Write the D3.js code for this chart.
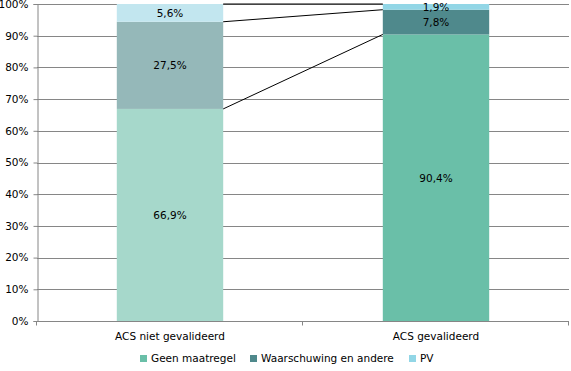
<!DOCTYPE html>
<html>
<head>
<meta charset="utf-8">
<script src="https://cdn.jsdelivr.net/npm/d3@7"></script>
<style>
  body { margin: 0; background: #fff; }
  svg { display: block; }
  text { font-family: "DejaVu Sans", Verdana, sans-serif; font-size: 10.5px; fill: #000; }
</style>
</head>
<body>
<div id="chart"></div>
<script>
var w = 571;
var h = 371;

// data
var categories = ["ACS niet gevalideerd", "ACS gevalideerd"];
var seriesNames = ["Geen maatregel", "Waarschuwing en andere", "PV"];
var geenMaatregel = [66.9, 90.4];
var waarschuwing = [27.5, 7.8];
var pv = [5.6, 1.9];
var yTicks = [0, 10, 20, 30, 40, 50, 60, 70, 80, 90, 100];

var colors = ["#6abfa8", "#4f898c", "#92d6e6"];
var fadedColors = ["#a6d8cb", "#95b8b9", "#c2e6ef"];

var margin = { top: 4, right: 2, bottom: 50, left: 37 };

var svg = d3.select("#chart")
    .append("svg")
    .attr("width", w)
    .attr("height", h);

var xScale = d3.scaleBand()
    .domain(categories)
    .range([margin.left, w - margin.right])
    .paddingInner(0)
    .paddingOuter(0);

var barWidth = xScale.bandwidth() * 0.4;

var yScale = d3.scaleLinear()
    .domain([0, 100])
    .range([h - margin.bottom, margin.top]);

// gridlines
svg.append("g")
    .selectAll("line")
    .data(yTicks.slice(1))
    .enter()
    .append("line")
    .attr("x1", margin.left)
    .attr("x2", w - margin.right)
    .attr("y1", function (d) { return Math.round(yScale(d)) + 0.5; })
    .attr("y2", function (d) { return Math.round(yScale(d)) + 0.5; })
    .attr("stroke", "#868686")
    .attr("stroke-width", 1);

// stack the series
var rows = categories.map(function (c, i) {
    return { cat: c, idx: i, a: geenMaatregel[i], b: waarschuwing[i], c: pv[i] };
});
var stack = d3.stack().keys(["a", "b", "c"]);
var stacked = stack(rows);

// bars
stacked.forEach(function (layer, si) {
    svg.append("g")
        .selectAll("rect")
        .data(layer)
        .enter()
        .append("rect")
        .attr("x", function (d) { return xScale(d.data.cat) + (xScale.bandwidth() - barWidth) / 2; })
        .attr("y", function (d) { return yScale(Math.min(d[1], 100)); })
        .attr("width", barWidth)
        .attr("height", function (d) { return yScale(d[0]) - yScale(Math.min(d[1], 100)); })
        .attr("fill", function (d) { return d.data.idx == 0 ? fadedColors[si] : colors[si]; });
});

// series lines between the bars
stacked.forEach(function (layer) {
    var top0 = Math.min(layer[0][1], 100);
    var top1 = Math.min(layer[1][1], 100);
    svg.append("line")
        .attr("x1", xScale(categories[0]) + (xScale.bandwidth() + barWidth) / 2)
        .attr("x2", xScale(categories[1]) + (xScale.bandwidth() - barWidth) / 2)
        .attr("y1", yScale(top0))
        .attr("y2", yScale(top1))
        .attr("stroke", "#000")
        .attr("stroke-width", 1);
});

// labels
stacked.forEach(function (layer) {
    svg.append("g")
        .selectAll("text")
        .data(layer)
        .enter()
        .append("text")
        .attr("x", function (d) { return xScale(d.data.cat) + xScale.bandwidth() / 2; })
        .attr("y", function (d) { return (yScale(d[0]) + yScale(Math.min(d[1], 100))) / 2 + 4; })
        .attr("text-anchor", "middle")
        .text(function (d) { return (d[1] - d[0]).toFixed(1).replace(".", ",") + "%"; });
});

// y axis
var yAxis = d3.axisLeft(yScale)
    .tickValues(yTicks)
    .tickSize(4)
    .tickPadding(5)
    .tickFormat(function (d) { return d + "%"; });

var gy = svg.append("g")
    .attr("transform", "translate(" + (margin.left + 0.5) + ",0)")
    .call(yAxis);
gy.select(".domain").attr("stroke", "#868686");
gy.selectAll(".tick line").attr("stroke", "#868686");
gy.selectAll(".tick text").style("font-size", "10.5px").attr("fill", "#000");

// x axis
var xAxis = d3.axisBottom(xScale)
    .tickSize(0)
    .tickPadding(11);

var gx = svg.append("g")
    .attr("transform", "translate(0," + (Math.round(yScale(0)) + 0.5) + ")")
    .call(xAxis);
gx.select(".domain").attr("stroke", "#868686").attr("d", "M" + margin.left + ",0H" + (w - margin.right));
gx.selectAll(".tick text").style("font-size", "10.5px").attr("fill", "#000");

// category separator ticks
var sepX = [margin.left, margin.left + xScale.bandwidth(), w - margin.right];
gx.selectAll("line.sep")
    .data(sepX)
    .enter()
    .append("line")
    .attr("class", "sep")
    .attr("x1", function (d) { return Math.round(d) - 0.5; })
    .attr("x2", function (d) { return Math.round(d) - 0.5; })
    .attr("y1", 0)
    .attr("y2", 4)
    .attr("stroke", "#868686");

// legend
var legendX = [140, 250, 409];
var legend = svg.append("g");
legend.selectAll("rect")
    .data(seriesNames)
    .enter()
    .append("rect")
    .attr("x", function (d, i) { return legendX[i]; })
    .attr("y", 355)
    .attr("width", 7)
    .attr("height", 7)
    .attr("fill", function (d, i) { return colors[i]; });
legend.selectAll("text")
    .data(seriesNames)
    .enter()
    .append("text")
    .attr("x", function (d, i) { return legendX[i] + 11; })
    .attr("y", 362)
    .text(function (d) { return d; });
</script>
</body>
</html>
